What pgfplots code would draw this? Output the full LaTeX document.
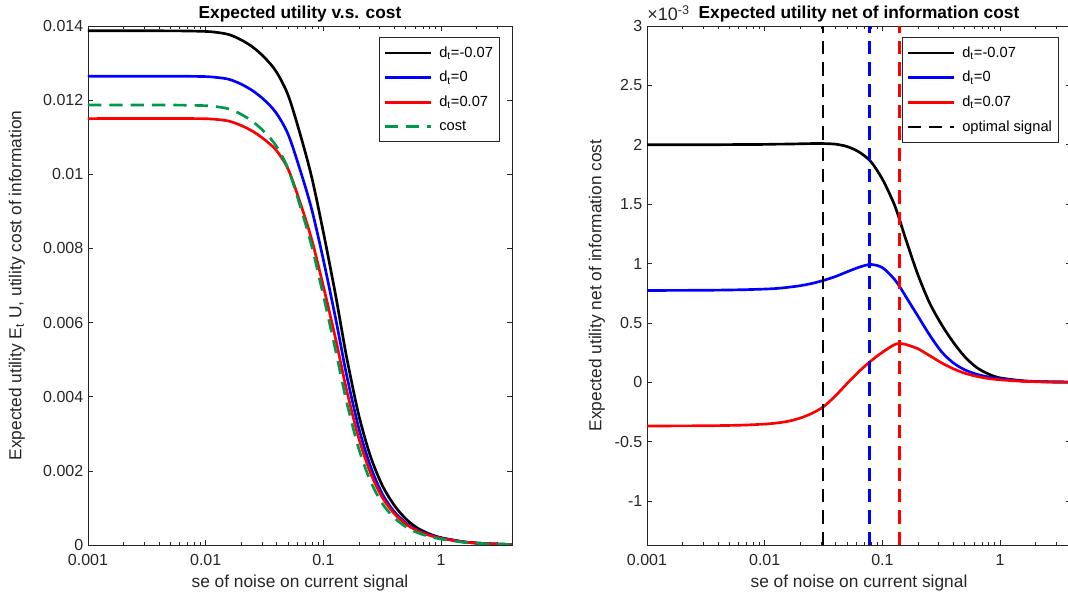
\documentclass[border=0pt]{standalone}
\usepackage{fontspec}
\setmainfont{Liberation Sans}
\usepackage{pgfplots}
\usepackage{pgfplotstable}
\pgfplotsset{compat=1.18}
\definecolor{axgray}{RGB}{38,38,38}
\definecolor{mgreen}{RGB}{0,153,76}
\definecolor{mblue}{RGB}{0,0,255}
\definecolor{mred}{RGB}{255,0,0}

% left panel: expected utility and cost of information
\pgfplotstableread{
x         bl        bu        rd        cost
0.001     0.013870  0.012643  0.011502  0.011870
0.0031623 0.013870  0.012645  0.011504  0.011870
0.0063096 0.013867  0.012644  0.011504  0.011865
0.01      0.013853  0.012635  0.011498  0.011850
0.012589  0.013825  0.012610  0.011477  0.011820
0.015849  0.013766  0.012560  0.011432  0.011760
0.019953  0.013628  0.012433  0.011318  0.011620
0.025119  0.013430  0.012252  0.011158  0.011420
0.031623  0.013150  0.011998  0.010935  0.011140
0.039811  0.012765  0.011650  0.010645  0.010760
0.050119  0.012135  0.011080  0.010140  0.010150
0.063096  0.011110  0.010138  0.009260  0.009170
0.079433  0.009930  0.009062  0.008248  0.008070
0.1       0.008430  0.007685  0.006973  0.006720
0.12589   0.006800  0.006170  0.005616  0.005300
0.14125   0.005905  0.005350  0.004876  0.004550
0.15849   0.005020  0.004540  0.004138  0.003820
0.19953   0.003510  0.003160  0.002883  0.002600
0.25119   0.002390  0.002120  0.001945  0.001720
0.31623   0.001610  0.001380  0.001285  0.001120
0.39811   0.001080  0.000905  0.000855  0.000740
0.50119   0.000705  0.000595  0.000566  0.000490
0.63096   0.000455  0.000398  0.000380  0.000330
0.79433   0.000300  0.000275  0.000262  0.000230
1         0.000197  0.000190  0.000181  0.000160
1.5849    0.000082  0.000080  0.000078  0.000070
2.5119    0.000034  0.000034  0.000033  0.000030
4         0.000013  0.000013  0.000013  0.000012
}\lefttab

% right panel: net of information cost (units of 1e-3)
\pgfplotstableread{
x         bl     bu     rd
0.001     2.000  0.773  -0.368
0.0031623 2.000  0.775  -0.366
0.0063096 2.002  0.779  -0.361
0.01      2.003  0.785  -0.352
0.012589  2.005  0.790  -0.343
0.015849  2.006  0.800  -0.328
0.019953  2.008  0.813  -0.302
0.025119  2.010  0.832  -0.262
0.031623  2.010  0.858  -0.205
0.039811  2.005  0.890  -0.115
0.050119  1.985  0.930  -0.010
0.063096  1.940  0.968  0.090
0.079433  1.860  0.992  0.178
0.1       1.710  0.965  0.253
0.12589   1.500  0.870  0.316
0.14125   1.355  0.800  0.326
0.15849   1.200  0.720  0.318
0.19953   0.910  0.560  0.283
0.25119   0.670  0.400  0.225
0.31623   0.490  0.260  0.165
0.39811   0.340  0.165  0.115
0.50119   0.215  0.105  0.076
0.63096   0.125  0.068  0.050
0.79433   0.070  0.045  0.032
1         0.037  0.030  0.021
1.5849    0.012  0.010  0.008
2.5119    0.004  0.004  0.003
4         0.001  0.001  0.001
}\righttab

\pgfplotsset{
  matlabax/.style={
    scale only axis, width=318pt, height=389.25pt,
    xmin=0.001, xmax=4,
    xtick={0.001,0.01,0.1,1}, xticklabels={0.001,0.01,0.1,1},
    minor xtick={0.002,0.003,0.004,0.005,0.006,0.007,0.008,0.009,
                 0.02,0.03,0.04,0.05,0.06,0.07,0.08,0.09,
                 0.2,0.3,0.4,0.5,0.6,0.7,0.8,0.9,2,3},
    axis line style={axgray, line width=0.5pt},
    every tick/.style={axgray, line width=0.5pt},
    major tick length=4pt, minor tick length=2.5pt,
    tick label style={font=\fontsize{12}{14}\selectfont, text=axgray},
    xticklabel style={yshift=-3.5pt},
    label style={font=\fontsize{13}{15}\selectfont, text=axgray},
    every axis title shift=0pt,
    title style={font=\bfseries\fontsize{13}{15}\selectfont, text=black,
                 at={(0.5,1)}, anchor=base, yshift=5.25pt},
    xlabel={se of noise on current signal},
    xlabel style={at={(rel axis cs:0.5,0)}, anchor=center, yshift=-28.5pt},
    legend cell align=left,
    legend style={at={(1,1)}, anchor=north east, xshift=-9pt, yshift=-8.25pt,
      draw=axgray, line width=0.5pt, font=\fontsize{11}{13}\selectfont,
      inner xsep=3pt, inner ysep=5pt, row sep=5pt,
      /tikz/every odd column/.append style={column sep=3pt}},
    legend image code/.code={\draw[##1] (0pt,0pt) -- (35pt,0pt);},
    clip=true,
  }
}

\begin{document}
\begin{tikzpicture}
\begin{axis}[xmode=log, matlabax, name=leftax,
  at={(66pt,37.5pt)}, anchor=south west,
  ymin=0, ymax=0.014,
  ytick={0,0.002,0.004,0.006,0.008,0.010,0.012,0.014},
  yticklabels={0,0.002,0.004,0.006,0.008,0.01,0.012,0.014},
  scaled y ticks=false,
  title={Expected utility v.s. cost},
  ylabel={Expected utility E\textsubscript{t} U, utility cost of information},
  ylabel style={at={([xshift=-53.25pt]rel axis cs:0,0.5)}, anchor=center},
]
\addplot[black, line width=2pt, smooth, tension=0.5] table[x=x, y=bl] {\lefttab};
\addlegendentry{d\textsubscript{t}=-0.07}
\addplot[mblue, line width=2pt, smooth, tension=0.5] table[x=x, y=bu] {\lefttab};
\addlegendentry{d\textsubscript{t}=0}
\addplot[mred, line width=2pt, smooth, tension=0.5] table[x=x, y=rd] {\lefttab};
\addlegendentry{d\textsubscript{t}=0.07}
\addplot[mgreen, line width=2pt, dash pattern=on 10pt off 6pt, smooth, tension=0.5] table[x=x, y=cost] {\lefttab};
\addlegendentry{cost}
\end{axis}

\begin{axis}[xmode=log, matlabax, name=rightax,
  at={(485.25pt,37.5pt)}, anchor=south west,
  ymin=-1.37, ymax=3,
  ytick={-1,-0.5,0,0.5,1,1.5,2,2.5,3},
  yticklabels={-1,-0.5,0,0.5,1,1.5,2,2.5,3},
  title={Expected utility net of information cost},
  ylabel={Expected utility net of information cost},
  ylabel style={at={([xshift=-37.5pt]rel axis cs:0,0.5)}, anchor=center},
]
\addplot[black, line width=2pt, smooth, tension=0.5] table[x=x, y=bl] {\righttab};
\addlegendentry{d\textsubscript{t}=-0.07}
\addplot[mblue, line width=2pt, smooth, tension=0.5] table[x=x, y=bu] {\righttab};
\addlegendentry{d\textsubscript{t}=0}
\addplot[mred, line width=2pt, smooth, tension=0.5] table[x=x, y=rd] {\righttab};
\addlegendentry{d\textsubscript{t}=0.07}
\addplot[black, line width=2pt, dash pattern=on 10pt off 6pt] coordinates {(0.0313,-1.37) (0.0313,3)};
\addlegendentry{optimal signal}
\addplot[mblue, line width=2pt, dash pattern=on 10pt off 6pt, forget plot] coordinates {(0.0781,-1.37) (0.0781,3)};
\addplot[mred, line width=2pt, dash pattern=on 10pt off 6pt, forget plot] coordinates {(0.1403,-1.37) (0.1403,3)};
\end{axis}
\node[anchor=base west, inner sep=0pt, text=axgray, font=\fontsize{13.5}{15}\selectfont] at ([yshift=3.75pt]rightax.north west) {×10\textsuperscript{-3}};
\pgfresetboundingbox
\path[use as bounding box] (0pt,0pt) rectangle (801pt,446.25pt);
\end{tikzpicture}
\end{document}
